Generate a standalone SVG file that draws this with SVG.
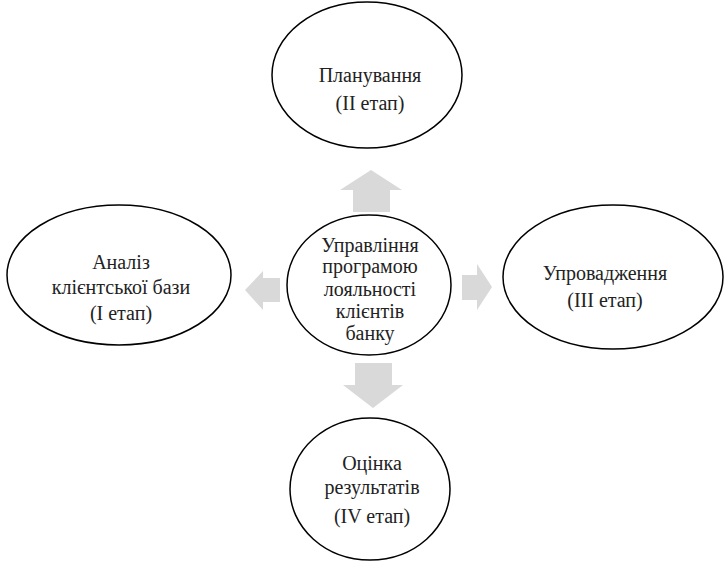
<svg xmlns="http://www.w3.org/2000/svg" width="724" height="563" viewBox="0 0 724 563">
<style>
.node ellipse{fill:#fff;stroke:#000;stroke-width:1.5}
.node text{font-family:'Liberation Serif','Times New Roman',serif;font-size:20px;fill:#222;text-anchor:middle}
.arr{fill:#d9d9d9;stroke:none}
</style>
<rect width="724" height="563" fill="#fff"/>
<g id="connectors">
<polygon class="arr" points="353,212 353,190 340,190 371,170 402,190 390,190 390,212"/>
<polygon class="arr" points="355,363 392,363 392,385 403,385 373,408 343,385 355,385"/>
<polygon class="arr" points="280,278 280,302 263,302 263,310 245,290 263,271 263,278"/>
<polygon class="arr" points="462,275 477,275 477,264 492,287 477,310 477,300 462,300"/>
</g>
<g id="node-plan" class="node">
<ellipse cx="367" cy="75" rx="95" ry="73"/>
<text x="370" y="82">Планування</text>
<text x="370" y="110">(II етап)</text>
</g>
<g id="node-center" class="node">
<ellipse cx="369" cy="285" rx="82" ry="70"/>
<text x="370" y="252">Управління</text>
<text x="370" y="273">програмою</text>
<text x="370" y="296">лояльності</text>
<text x="370" y="318">клієнтів</text>
<text x="370" y="340">банку</text>
</g>
<g id="node-analysis" class="node">
<ellipse cx="119" cy="275" rx="112" ry="70"/>
<text x="121" y="269">Аналіз</text>
<text x="121" y="294">клієнтської бази</text>
<text x="121" y="320">(I етап)</text>
</g>
<g id="node-impl" class="node">
<ellipse cx="613" cy="277" rx="110" ry="72"/>
<text x="605" y="280">Упровадження</text>
<text x="605" y="307">(III етап)</text>
</g>
<g id="node-eval" class="node">
<ellipse cx="370" cy="489" rx="80" ry="71"/>
<text x="372" y="470">Оцінка</text>
<text x="372" y="494">результатів</text>
<text x="372" y="523">(IV етап)</text>
</g>
</svg>
